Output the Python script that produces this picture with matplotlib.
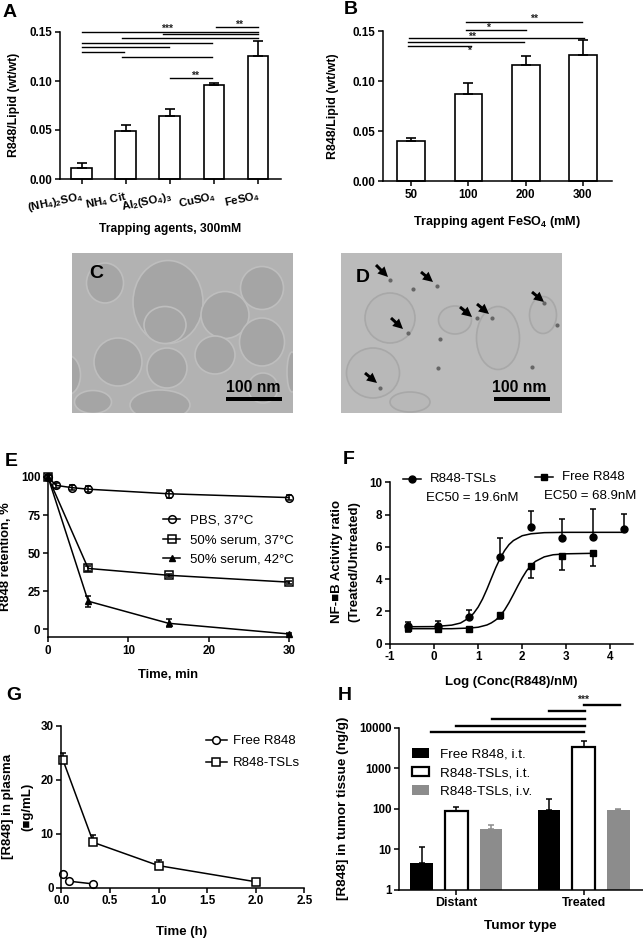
import matplotlib
matplotlib.use('Agg')
import matplotlib.pyplot as plt
from matplotlib.patches import Ellipse, Rectangle

plt.rcParams['font.family'] = ['Liberation Sans', 'DejaVu Sans']
plt.rcParams['mathtext.fontset'] = 'custom'
plt.rcParams['mathtext.bf'] = 'Liberation Sans:bold'
plt.rcParams['mathtext.rm'] = 'Liberation Sans'
plt.rcParams['axes.unicode_minus'] = False

W, H = 643, 939
GREY = '#8c8c8c'

# panel A
a_labels = [r'$\mathbf{(NH_4)_2SO_4}$', r'$\mathbf{NH_4\ Cit}$', r'$\mathbf{Al_2(SO_4)_3}$',
            r'$\mathbf{CuSO_4}$', r'$\mathbf{FeSO_4}$']
a_vals = [0.011, 0.049, 0.0645, 0.0955, 0.126]
a_err = [0.005, 0.0065, 0.0065, 0.002, 0.015]
a_lines = [(4.04, 5.01, 0.155), (1, 5.01, 0.15), (2.85, 5.01, 0.1476), (1.92, 5.01, 0.144),
           (1, 3.95, 0.139), (1, 2.98, 0.1347), (1, 1.97, 0.13), (1.92, 3.95, 0.1248), (3.0, 3.95, 0.1034)]

# panel B
b_labels = ['50', '100', '200', '300']
b_vals = [0.04, 0.087, 0.116, 0.126]
b_err = [0.003, 0.011, 0.009, 0.015]
b_lines = [(1.95, 3.99, 0.1597), (1.95, 3.0, 0.1513), (0.965, 4.02, 0.1437),
           (0.95, 2.97, 0.1393), (0.95, 2.05, 0.1353)]

# panel E
e_x_pbs = [0, 1, 3, 5, 15, 30]
e_pbs = [100, 94.5, 93, 92, 89, 86.5]
e_pbs_err = [1.5, 1.5, 1.5, 2, 2.5, 1.5]
e_x = [0, 5, 15, 30]
e_s37 = [100, 40, 35.5, 31]
e_s37_err = [1, 1.5, 1, 1]
e_s42 = [100, 18.5, 4, -3]
e_s42_err = [1, 3.5, 2.5, 0.5]

# panel F
f_x_tsl = [-0.6, 0.1, 0.8, 1.5, 2.2, 2.9, 3.6, 4.3]
f_tsl = [1.09, 1.1, 1.63, 5.35, 7.25, 6.55, 6.6, 7.1]
f_tsl_up = [0.26, 0.3, 0.47, 1.2, 1.0, 1.15, 1.75, 0.95]
f_x_free = [-0.6, 0.1, 0.8, 1.5, 2.2, 2.9, 3.6]
f_free = [0.95, 0.93, 0.92, 1.8, 4.8, 5.45, 5.6]
f_free_low = [0.2, 0.18, 0.12, 0.3, 0.7, 0.9, 0.8]
f_fit_x_tsl = [-0.6, 0, 0.4, 0.6, 0.8, 0.9, 1.0, 1.1, 1.2, 1.3, 1.4, 1.5, 1.6, 1.7, 1.8, 2.0, 2.2, 2.5, 3, 4.3]
f_fit_tsl = [1.05, 1.06, 1.15, 1.28, 1.61, 1.89, 2.27, 2.77, 3.38, 4.05, 4.71, 5.29, 5.77, 6.14, 6.39,
             6.69, 6.81, 6.88, 6.9, 6.9]
f_fit_x_free = [-0.6, 0.4, 0.8, 1.0, 1.2, 1.3, 1.4, 1.5, 1.6, 1.7, 1.8, 1.9, 2.0, 2.1, 2.2, 2.3, 2.5, 2.7, 3, 3.6]
f_fit_free = [0.93, 0.93, 0.97, 1.02, 1.16, 1.29, 1.47, 1.73, 2.09, 2.54, 3.05, 3.58, 4.08, 4.52, 4.85,
              5.1, 5.38, 5.51, 5.57, 5.6]

# panel G
g_x_free = [0.017, 0.083, 0.33]
g_free = [2.5, 1.2, 0.7]
g_x_tsl = [0.017, 0.33, 1, 2]
g_tsl = [23.7, 8.4, 4.1, 1.1]
g_tsl_err = [1.2, 1.4, 1.0, 0.2]

# panel H
h_groups = ['Distant', 'Treated']
h_free = [4.7, 95]
h_free_top = [11.4, 175]
h_it = [88, 3460]
h_it_top = [109, 4850]
h_iv = [32, 92]
h_iv_top = [41, 101]
h_lines = [(0.73, 1.01, 26850), (1.003, 1.283, 36400), (0.277, 1.01, 17020), (-0.003, 1.01, 10990), (-0.199, 1.003, 7960)]

# micrographs, ellipses as (x, y, w, h) in px
c_cells = [(105, 283, 37, 40), (168, 302, 70, 83), (165, 325, 42, 37), (262, 288, 43, 43),
           (225, 315, 48, 47), (262, 342, 45, 48), (215, 355, 40, 38), (118, 362, 48, 48),
           (167, 368, 40, 40), (67, 375, 27, 40), (263, 388, 30, 30), (160, 405, 60, 30),
           (93, 402, 37, 23), (292, 372, 10, 40)]
d_cells = [(390, 318, 50, 50), (373, 373, 53, 50), (455, 320, 33, 28), (498, 338, 43, 63),
           (543, 315, 27, 37), (410, 402, 40, 20)]
d_arrows = [(376, 265, 388, 277), (421, 272, 433, 282), (460, 307, 472, 317), (477, 304, 489, 314),
            (532, 292, 544, 302), (391, 318, 403, 329), (365, 373, 377, 383)]
d_specks = [(390, 280), (437, 286), (413, 289), (492, 318), (477, 318), (408, 333), (544, 303),
            (557, 325), (440, 339), (438, 368), (380, 388), (532, 367)]


def make_axes(fig, left, right, top, bottom):
    ax = fig.add_axes([left / W, 1 - bottom / H, (right - left) / W, (bottom - top) / H])
    ax.spines['top'].set_visible(False)
    ax.spines['right'].set_visible(False)
    ax.spines['left'].set_linewidth(1.1)
    ax.spines['bottom'].set_linewidth(1.1)
    ax.tick_params(width=1.1, length=3.5, labelsize=8.4, pad=2)
    ax.patch.set_alpha(0)
    return ax


def bold_ticks(ax):
    for t in ax.get_xticklabels() + ax.get_yticklabels():
        t.set_fontweight('bold')


def draw_bars(ax, x, vals, err, width):
    ax.bar(x, vals, width, facecolor='white', edgecolor='black', linewidth=1.2, clip_on=False)
    ax.errorbar(x, vals, yerr=[[0] * len(x), err], fmt='none', ecolor='black', elinewidth=1.2,
                capsize=3.5, capthick=1.2, clip_on=False, zorder=1)


fig = plt.figure(figsize=(W / 100, H / 100), dpi=100)

# A
ax = make_axes(fig, 59.5, 281, 32, 179)
draw_bars(ax, range(1, 6), a_vals, a_err, 0.47)
ax.set_xlim(0.5, 5.52)
ax.set_ylim(0, 0.15)
ax.set_yticks([0, 0.05, 0.10, 0.15], ['0.00', '0.05', '0.10', '0.15'])
ax.set_xticks(range(1, 6))
ax.set_xticklabels(a_labels, rotation=12, ha='right', rotation_mode='anchor', fontsize=8.2)
ax.tick_params(axis='x', pad=4)
for x0, x1, y in a_lines:
    ax.plot([x0, x1], [y, y], color='black', lw=1.0, clip_on=False)
bold_ticks(ax)

# B
ax = make_axes(fig, 382.7, 612, 31.3, 181)
draw_bars(ax, range(1, 5), b_vals, b_err, 0.485)
ax.set_xlim(0.5, 4.51)
ax.set_ylim(0, 0.15)
ax.set_yticks([0, 0.05, 0.10, 0.15], ['0.00', '0.05', '0.10', '0.15'])
ax.set_xticks(range(1, 5), b_labels)
for x0, x1, y in b_lines:
    ax.plot([x0, x1], [y, y], color='black', lw=1.0, clip_on=False)
bold_ticks(ax)

# E
ax = make_axes(fig, 48, 289, 477, 637)
mk = dict(color='black', lw=1.1, ms=5.5, mfc='none', mew=1.1, clip_on=False)
eb = dict(fmt='none', ecolor='black', elinewidth=1.1, capsize=2.5, capthick=1.1, clip_on=False)
ax.errorbar(e_x_pbs, e_pbs, yerr=e_pbs_err, **eb)
ax.errorbar(e_x, e_s37, yerr=e_s37_err, **eb)
ax.errorbar(e_x, e_s42, yerr=e_s42_err, **eb)
ax.plot(e_x_pbs, e_pbs, marker='o', label='PBS, 37°C', **mk)
ax.plot(e_x, e_s37, marker='s', label='50% serum, 37°C', **mk)
ax.plot(e_x, e_s42, marker='^', color='black', lw=1.1, ms=4.5, label='50% serum, 42°C', clip_on=False)
ax.set_xlim(0, 30)
ax.set_ylim(-5, 100)
ax.set_xticks([0, 10, 20, 30])
ax.set_yticks([0, 25, 50, 75, 100])
ax.legend(loc='upper left', bbox_to_anchor=(0.477, 0.765), frameon=False, fontsize=9.5, handlelength=1.3,
          handletextpad=0.75, labelspacing=0.55, borderpad=0, borderaxespad=0)
bold_ticks(ax)

# F
ax = make_axes(fig, 390, 632.7, 482.3, 643.7)
ax.errorbar(f_x_tsl, f_tsl, yerr=[[0] * len(f_tsl), f_tsl_up], **eb)
ax.errorbar(f_x_free, f_free, yerr=[f_free_low, [0] * len(f_free)], **eb)
ax.plot(f_fit_x_tsl, f_fit_tsl, color='black', lw=1.1)
ax.plot(f_fit_x_free, f_fit_free, color='black', lw=1.1)
ax.plot(f_x_tsl, f_tsl, 'o', color='black', ms=5, clip_on=False)
ax.plot(f_x_free, f_free, 's', color='black', ms=5, clip_on=False)
ax.set_xlim(-1, 4.507)
ax.set_ylim(0, 10)
ax.set_xticks([-1, 0, 1, 2, 3, 4])
ax.set_yticks([0, 2, 4, 6, 8, 10])
bold_ticks(ax)

# G
ax = make_axes(fig, 61.3, 304.3, 726, 887.7)
ax.errorbar(g_x_tsl, g_tsl, yerr=[[0] * len(g_tsl), g_tsl_err], **eb)
ax.plot(g_x_free, g_free, marker='o', label='Free R848', **mk)
ax.plot(g_x_tsl, g_tsl, marker='s', label='R848-TSLs', **mk)
for line in ax.get_lines():
    line.set_markerfacecolor('white')
ax.set_xlim(0, 2.5)
ax.set_ylim(0, 30)
ax.set_xticks([0, 0.5, 1, 1.5, 2, 2.5], ['0.0', '0.5', '1.0', '1.5', '2.0', '2.5'])
ax.set_yticks([0, 10, 20, 30])
ax.legend(loc='upper left', bbox_to_anchor=(0.595, 0.945), frameon=False, fontsize=9.5, handlelength=1.6,
          handletextpad=0.45, labelspacing=0.75, borderpad=0, borderaxespad=0)
bold_ticks(ax)

# H
ax = make_axes(fig, 399.3, 642.7, 728, 889.7)
ax.set_yscale('log')
offset, bw = 0.272, 0.178
for i in range(2):
    ax.errorbar(i - offset, h_free[i], yerr=[[0], [h_free_top[i] - h_free[i]]], **eb)
    ax.errorbar(i, h_it[i], yerr=[[0], [h_it_top[i] - h_it[i]]], **eb)
    ax.errorbar(i + offset, h_iv[i], yerr=[[0], [h_iv_top[i] - h_iv[i]]], fmt='none', ecolor=GREY,
                elinewidth=1.1, capsize=2.5, capthick=1.1)
ax.bar([i - offset for i in range(2)], h_free, bw, color='black', label='Free R848, i.t.')
ax.bar(range(2), h_it, bw, facecolor='white', edgecolor='black', linewidth=1.6, label='R848-TSLs, i.t.')
ax.bar([i + offset for i in range(2)], h_iv, bw, color=GREY, label='R848-TSLs, i.v.')
ax.set_xlim(-0.448, 1.463)
ax.set_ylim(1, 10000)
ax.set_yticks([1, 10, 100, 1000, 10000], ['1', '10', '100', '1000', '10000'])
ax.minorticks_off()
ax.set_xticks([0, 1], h_groups)
ax.tick_params(axis='x', labelsize=8.9)
for x0, x1, y in h_lines:
    ax.plot([x0, x1], [y, y], color='black', lw=1.7, clip_on=False)
ax.legend(loc='upper left', bbox_to_anchor=(0.052, 0.875), frameon=False, fontsize=9.7, handlelength=1.3,
          handleheight=0.7, handletextpad=0.75, labelspacing=0.45, borderpad=0, borderaxespad=0)
bold_ticks(ax)

# everything placed by pixel: micrographs, labels, stars
ov = fig.add_axes([0, 0, 1, 1], zorder=-1)
ov.set_xlim(0, W)
ov.set_ylim(H, 0)
ov.axis('off')
top = fig.add_axes([0, 0, 1, 1], zorder=5)
top.set_xlim(0, W)
top.set_ylim(H, 0)
top.axis('off')
top.patch.set_alpha(0)

micro = [(72, c_cells, '#b2b2b2', '#a5a5a5', '#bebebe', 154, 181),
         (341, d_cells, '#bbbbbb', '#b8b8b8', '#a8a8a8', 153, 178)]
for x0, cells, bg, fill, edge, bar_dx, txt_dx in micro:
    ov.add_patch(Rectangle((x0, 253), 221, 160, facecolor=bg, edgecolor='none'))
    clip = Rectangle((x0, 253), 221, 160, transform=ov.transData)
    for cx, cy, w, h in cells:
        e = Ellipse((cx, cy), w, h, facecolor=fill, edgecolor=edge, linewidth=1.2)
        ov.add_patch(e)
        e.set_clip_path(clip)
    ov.add_patch(Rectangle((x0 + bar_dx, 397), 56, 4, facecolor='black'))
    ov.text(x0 + txt_dx, 388, '100 nm', fontsize=11.3, fontweight='bold', ha='center', va='center')
for sx, sy in d_specks:
    ov.plot(sx, sy, 'o', color='#666666', ms=3, mew=0)
for x0, y0, x1, y1 in d_arrows:
    ov.arrow(x0, y0, x1 - x0, y1 - y0, width=3, head_width=10, head_length=10,
             length_includes_head=True, color='black', lw=0)

letters = [('A', 10, 12.5), ('B', 351, 9), ('C', 96, 273), ('D', 363, 278), ('E', 11, 461),
           ('F', 349, 459), ('G', 14, 695), ('H', 345, 695)]
for s, x, y in letters:
    top.text(x, y, s, fontsize=14, fontweight='bold', ha='center', va='center')

xlabels = [('Trapping agents, 300mM', 170, 229, 8.7), (r'Trapping agent FeSO$\mathbf{_4}$ (mM)', 497, 222, 9.1),
           ('Time, min', 168, 675, 9.4), ('Log (Conc(R848)/nM)', 511.7, 681.7, 9.5),
           ('Time (h)', 182, 932, 9.5), ('Tumor type', 520, 925.7, 9.7)]
for s, x, y, fs in xlabels:
    top.text(x, y, s, fontsize=fs, fontweight='bold', ha='center', va='center')

ylabels = [('R848/Lipid (wt/wt)', 14.5, 105, 8.85), ('R848/Lipid (wt/wt)', 332.7, 106, 8.9),
           ('R848 retention, %', 6, 557, 9.4),
           ('NF-■B Activity ratio', 337, 561.7, 9.5), ('(Treated/Untreated)', 354, 561.7, 9.5),
           ('[R848] in plasma', 8, 806.7, 9.5), ('(■g/mL)', 27, 806.7, 9.5),
           ('[R848] in tumor tissue (ng/g)', 343, 808, 9.7)]
for s, x, y, fs in ylabels:
    top.text(x, y, s, fontsize=fs, fontweight='bold', rotation=90, ha='center', va='center')

stars = [('***', 167, 29), ('**', 239, 24.5), ('**', 195, 76), ('**', 533.7, 19), ('*', 488, 28),
         ('**', 471.7, 37), ('*', 469, 51), ('***', 583, 699.5)]
for s, x, y in stars:
    top.text(x, y, s, fontsize=7.5, fontweight='bold', ha='center', va='center', color='#222222')

# panel F key, typed by hand in the original figure
f_key = [('R848-TSLs', 463, 479, 'o', 411.7, 479), ('Free R848', 593, 477, 's', 544, 477)]
for s, tx, ty, m, mx, my in f_key:
    top.plot([mx - 9, mx + 9], [my, my], color='black', lw=1.1)
    top.plot(mx, my, m, color='black', ms=5)
    top.text(tx, ty, s, fontsize=9.5, ha='center', va='center')
top.text(472, 498, 'EC50 = 19.6nM', fontsize=9.5, ha='center', va='center')
top.text(590, 496, 'EC50 = 68.9nM', fontsize=9.5, ha='center', va='center')

fig.savefig('out.png', dpi=100)
